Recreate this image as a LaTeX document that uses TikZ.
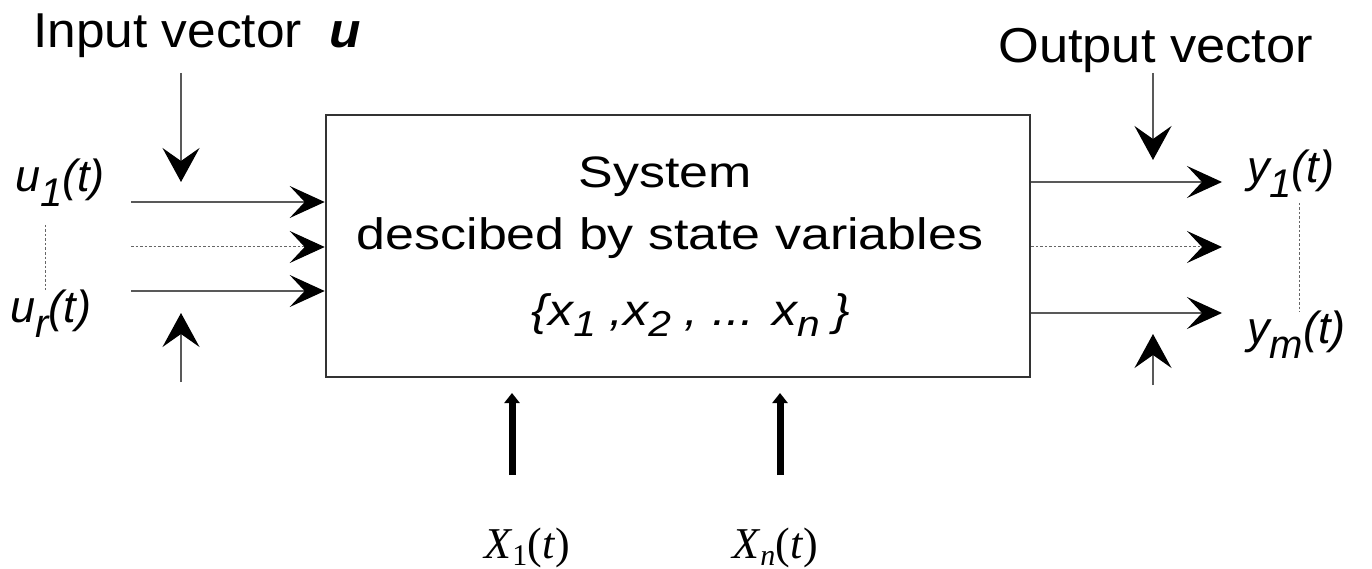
\documentclass[tikz,border=0pt]{standalone}
\usepackage[no-math]{fontspec}
\setmainfont{Liberation Sans}
\newfontfamily\sermath{Liberation Serif}
\usetikzlibrary{arrows.meta}
\newcommand\lblsub[1]{\raisebox{-15pt}{\fontsize{40}{42}\selectfont #1}}
\newcommand\boxsub[1]{\raisebox{-11pt}{\fontsize{36}{38}\selectfont #1}}
\newcommand\mathsub[1]{\raisebox{-7pt}{\fontsize{30}{32}\selectfont #1}}
\tikzset{
  sysbox/.style={draw=black!80, line width=2.6pt, inner sep=0pt},
  thinline/.style={draw=black!65, line width=1.4pt},
  tipV/.style={-{Stealth[length=34pt,width=37pt,inset=13pt,black]}},
  tipH/.style={-{Stealth[length=35pt,width=32pt,inset=15pt,black]}},
  dotline/.style={draw=black!60, line width=1pt, dash pattern=on 2.5pt off 2pt},
  thickarrow/.style={line width=7pt, -{Triangle[length=10pt,width=15pt]}},
  headfont/.style={font=\fontsize{49}{55}\selectfont, inner sep=0pt, anchor=base west},
  boxtext/.style={font=\fontsize{44}{50}\selectfont, inner sep=0pt, anchor=base},
  lblfont/.style={font=\fontsize{45}{50}\selectfont\itshape, inner sep=0pt, anchor=base west},
  mathlbl/.style={font=\fontsize{44}{48}\sermath, inner sep=0pt, anchor=base},
}
\begin{document}
\begin{tikzpicture}[x=1pt,y=-1pt]
\useasboundingbox (0,0) rectangle (1372,569);
% system box
\node[sysbox, minimum width=704pt, minimum height=262pt] (sys) at (678,246) {};
\node[boxtext] (t1) at (665,188) {\scalebox{1.18}[1]{System}};
\node[boxtext] (t2) at (670,250) {\scalebox{1.18}[1]{descibed by state variables}};
\node[boxtext] (t3) at (691,325) {\scalebox{1.13}[1]{\itshape \{x\boxsub{1} ,x\boxsub{2} , ... x\boxsub{n} \}}};
% headings
\node[headfont] (inlabel) at (33,48) {\scalebox{1.05}[1]{Input vector\hspace{26pt}\textbf{\textit{u}}}};
\node[headfont] (outlabel) at (998,63) {\scalebox{1.07}[1]{Output vector}};
% signal labels
\node[lblfont] (u1) at (15,192) {u\lblsub{1}(t)};
\node[lblfont] (ur) at (10,322) {u\lblsub{r}(t)};
\node[lblfont] (y1) at (1247,183) {y\lblsub{1}(t)};
\node[lblfont] (ym) at (1247,343) {y\lblsub{m}(t)};
\node[mathlbl] (X1) at (527,558) {\textit{X}\mathsub{1}(\textit{t})};
\node[mathlbl] (Xn) at (775,558) {\textit{X}\mathsub{\textit{n}}(\textit{t})};
% free ends
\coordinate (inA) at (181,73);   \coordinate (inAtip) at (181,182);
\coordinate (inB) at (181,382);  \coordinate (inBtip) at (181,313);
\coordinate (outA) at (1153,73); \coordinate (outAtip) at (1153,160);
\coordinate (outB) at (1153,385);\coordinate (outBtip) at (1153,334);
\coordinate (i1) at (131,202); \coordinate (i2) at (131,247); \coordinate (i3) at (131,291);
\coordinate (o1) at (1222,182); \coordinate (o2) at (1222,247); \coordinate (o3) at (1222,313);
\coordinate (s1) at (512,475); \coordinate (s1tip) at (512,393);
\coordinate (sn) at (780,475); \coordinate (sntip) at (780,393);
\coordinate (dl1) at (45,225); \coordinate (dl2) at (45,290);
\coordinate (dr1) at (1299,203); \coordinate (dr2) at (1299,312);
% vector arrows
\draw[thinline, tipV] (inA) -- (inAtip);
\draw[thinline, tipV] (inB) -- (inBtip);
\draw[thinline, tipV] (outA) -- (outAtip);
\draw[thinline, tipV] (outB) -- (outBtip);
% inputs
\draw[thinline, tipH] (i1) -- (i1 -| sys.west);
\draw[thinline, dotline, tipH] (i2) -- (i2 -| sys.west);
\draw[thinline, tipH] (i3) -- (i3 -| sys.west);
% outputs
\draw[thinline, tipH] (o1 -| sys.east) -- (o1);
\draw[thinline, dotline, tipH] (o2 -| sys.east) -- (o2);
\draw[thinline, tipH] (o3 -| sys.east) -- (o3);
% dotted verticals
\draw[dotline] (dl1) -- (dl2);
\draw[dotline] (dr1) -- (dr2);
% state arrows
\draw[thickarrow] (s1) -- (s1tip);
\draw[thickarrow] (sn) -- (sntip);
\end{tikzpicture}
\end{document}
